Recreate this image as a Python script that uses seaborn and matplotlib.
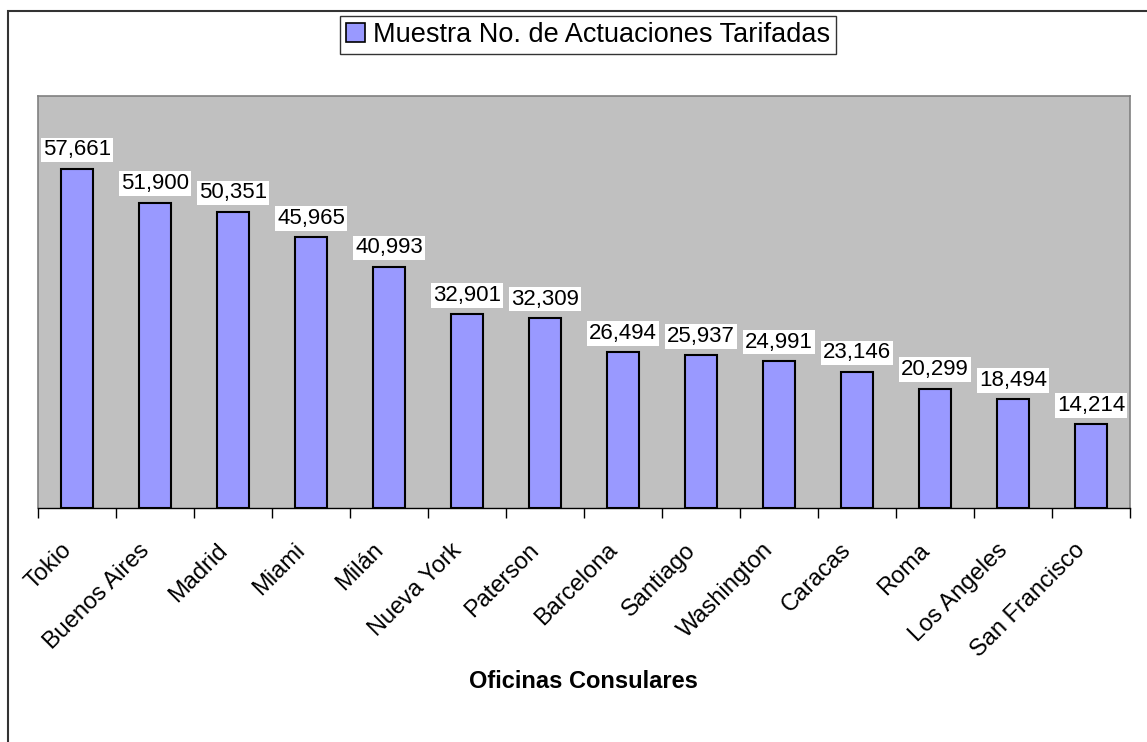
import numpy as np
import pandas as pd
import matplotlib
matplotlib.use("Agg")
import matplotlib.pyplot as plt
import matplotlib.transforms as mtransforms
import seaborn as sns
from matplotlib.patches import Rectangle, Patch

# Datos
oficinas = ["Tokio", "Buenos Aires", "Madrid", "Miami", "Milán", "Nueva York",
            "Paterson", "Barcelona", "Santiago", "Washington", "Caracas", "Roma",
            "Los Angeles", "San Francisco"]
actuaciones = [57661, 51900, 50351, 45965, 40993, 32901, 32309, 26494,
               25937, 24991, 23146, 20299, 18494, 14214]

df = pd.DataFrame({"oficina": oficinas, "actuaciones": actuaciones})

sns.set_theme(style="white")
plt.rcParams["font.family"] = ["Liberation Sans", "DejaVu Sans"]
plt.rcParams["text.color"] = "black"
plt.rcParams["axes.labelcolor"] = "black"
plt.rcParams["xtick.color"] = "black"

fig = plt.figure(figsize=(11.47, 7.42), dpi=100)
ax = fig.add_axes([38 / 1147, 1 - 508 / 742, (1130 - 38) / 1147, (508 - 96) / 742])
ax.set_facecolor("#C0C0C0")

sns.barplot(data=df, x="oficina", y="actuaciones", color="#9999FF",
            edgecolor="black", linewidth=1.5, width=0.4, saturation=1, ax=ax)

ax.set_ylim(0, 70000)
ax.set_xlim(-0.5, len(oficinas) - 0.5)
ax.set_yticks([])
ax.set_ylabel("")

# etiquetas de valores
for i, v in enumerate(actuaciones):
    ax.annotate(f"{v:,}", (i, v), xytext=(0, 6), textcoords="offset points",
                ha="center", va="bottom", fontsize=16, color="black",
                bbox=dict(boxstyle="square,pad=0.08", facecolor="white", edgecolor="none"))

# eje x: marcas entre categorías, nombres girados 45°
ax.set_xticks(range(len(oficinas)))
ax.set_xticklabels([""] * len(oficinas))
ax.set_xticks(np.arange(-0.5, len(oficinas), 1), minor=True)
ax.tick_params(axis="x", which="major", length=0)
ax.tick_params(axis="x", which="minor", length=7, width=1, color="black", direction="out", bottom=True)

shift = mtransforms.ScaledTranslation(-9 / 100, -39 / 100, fig.dpi_scale_trans)
for i, name in enumerate(oficinas):
    ax.text(i, 0, name, transform=ax.get_xaxis_transform() + shift, rotation=45,
            rotation_mode="anchor", ha="right", va="center", fontsize=17, color="black")

ax.set_xlabel("Oficinas Consulares", fontsize=17, fontweight="bold", color="black")
ax.xaxis.set_label_coords(583 / 1147, 1 - 682 / 742, transform=fig.transFigure)
ax.xaxis.label.set_va("center")

for s in ["top", "left", "right"]:
    ax.spines[s].set_color("#808080")
    ax.spines[s].set_linewidth(1.2)
ax.spines["bottom"].set_color("black")
ax.spines["bottom"].set_linewidth(1)

# marco de la figura
fig.patches.append(Rectangle((8 / 1147, -0.05), 1.2, 1 - 11 / 742 + 0.05,
                             transform=fig.transFigure, fill=False,
                             edgecolor="#333333", linewidth=1.5))

handle = Patch(facecolor="#9999FF", edgecolor="black", linewidth=1.2)
leg = fig.legend([handle], ["Muestra No. de Actuaciones Tarifadas"], loc="upper center",
                 bbox_to_anchor=(588 / 1147, 1 - 16 / 742), fontsize=19.5, frameon=True,
                 fancybox=False, edgecolor="black", handlelength=0.7, handleheight=0.7,
                 handletextpad=0.3, borderpad=0.22, borderaxespad=0, labelcolor="black")
leg.get_frame().set_linewidth(1)

fig.savefig("out.png", dpi=100)
